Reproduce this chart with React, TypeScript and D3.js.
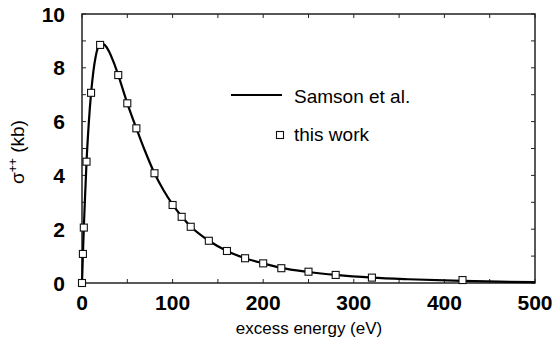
import React from "react";
import * as d3 from "d3";

const samsonX = [0, 1, 2, 3, 5, 7.5, 10, 12.5, 15, 17.5, 20, 22.5, 25, 30, 35, 40, 50, 60, 70, 80, 90, 100, 110, 120, 140, 160, 180, 200, 220, 250, 280, 320, 360, 420, 460, 500];
const samsonY = [0, 1.05, 2.05, 2.9, 4.5, 5.95, 7.05, 7.85, 8.4, 8.75, 8.88, 8.9, 8.85, 8.6, 8.2, 7.73, 6.68, 5.75, 4.87, 4.08, 3.45, 2.92, 2.47, 2.1, 1.57, 1.19, 0.92, 0.73, 0.56, 0.41, 0.3, 0.2, 0.14, 0.08, 0.05, 0.03];

const workX = [0, 1, 2, 5, 10, 20, 40, 50, 60, 80, 100, 110, 120, 140, 160, 180, 200, 220, 250, 280, 320, 420];
const workY = [0, 1.08, 2.06, 4.51, 7.07, 8.85, 7.73, 6.68, 5.75, 4.08, 2.9, 2.46, 2.09, 1.57, 1.19, 0.92, 0.73, 0.55, 0.42, 0.3, 0.2, 0.11];

const xTickLabels = [0, 100, 200, 300, 400, 500];
const yTickLabels = [0, 2, 4, 6, 8, 10];
const legendLabels = ["Samson et al.", "this work"];

const W = 555;
const H = 343;
const L = 82, R = 535, T = 14, B = 283;

export default function App() {
  const x = d3.scaleLinear().domain([0, 500]).range([L, R]);
  const y = d3.scaleLinear().domain([0, 10]).range([B, T]);
  const line = d3
    .line<number>()
    .x((_, i) => x(samsonX[i]))
    .y((d) => y(d))
    .curve(d3.curveMonotoneX);
  const xMinor = d3.range(0, 501, 50);
  const yMinor = d3.range(0, 11, 1);
  const tick = 4;
  const axisColor = "#222";
  const font = "'Liberation Sans', Arial, Helvetica, sans-serif";
  return (
    <svg width={W} height={H} style={{ position: "absolute", left: 0, top: 0, background: "#fff" }} fontFamily={font}>
      <rect x={0} y={0} width={W} height={H} fill="#fff" />
      {xMinor.map((v) => (
        <g key={"xt" + v}>
          <line x1={x(v)} x2={x(v)} y1={B} y2={B - tick} stroke={axisColor} strokeWidth={1} />
          <line x1={x(v)} x2={x(v)} y1={T} y2={T + tick} stroke={axisColor} strokeWidth={1} />
        </g>
      ))}
      {yMinor.map((v) => (
        <g key={"yt" + v}>
          <line x1={L} x2={L + tick} y1={y(v)} y2={y(v)} stroke={axisColor} strokeWidth={1} />
          <line x1={R} x2={R - tick} y1={y(v)} y2={y(v)} stroke={axisColor} strokeWidth={1} />
        </g>
      ))}
      <rect x={L} y={T} width={R - L} height={B - T} fill="none" stroke={axisColor} strokeWidth={1.5} />
      <path d={line(samsonY) || ""} fill="none" stroke="#000" strokeWidth={2.2} />
      {workX.map((v, i) => (
        <rect key={"m" + i} x={x(v) - 3.5} y={y(workY[i]) - 3.5} width={7} height={7} fill="#fff" stroke="#111" strokeWidth={1.1} />
      ))}
      {xTickLabels.map((v) => (
        <text key={"xl" + v} x={x(v)} y={310} textAnchor="middle" fontSize={21} fontWeight="bold" fill="#000">
          {v}
        </text>
      ))}
      {yTickLabels.map((v) => (
        <text key={"yl" + v} x={65} y={y(v) + 7.5} textAnchor="end" fontSize={21} fontWeight="bold" fill="#000">
          {v}
        </text>
      ))}
      <text x={309} y={334} textAnchor="middle" fontSize={17} fill="#000">
        excess energy (eV)
      </text>
      <text transform="translate(24,152) rotate(-90)" textAnchor="middle" fontSize={19} fill="#000">
        σ<tspan dy={-7} fontSize={12}>++</tspan>
        <tspan dy={7}> (kb)</tspan>
      </text>
      <line x1={231} x2={282} y1={95} y2={95} stroke="#000" strokeWidth={2.2} />
      <text x={294} y={103} fontSize={19} fill="#000">{legendLabels[0]}</text>
      <rect x={276.5} y={131.5} width={7} height={7} fill="#fff" stroke="#111" strokeWidth={1.1} />
      <text x={294} y={141} fontSize={19} fill="#000">{legendLabels[1]}</text>
    </svg>
  );
}
